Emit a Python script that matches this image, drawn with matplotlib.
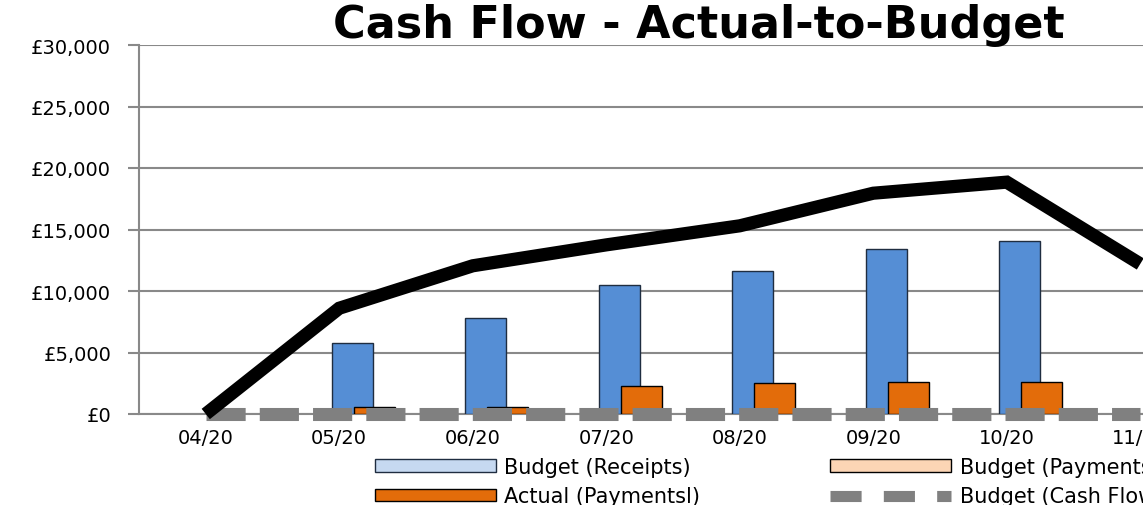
import matplotlib
matplotlib.use("Agg")
import matplotlib.pyplot as plt
from matplotlib.patches import Patch
from matplotlib.lines import Line2D
from matplotlib.ticker import FuncFormatter, MultipleLocator

# ---- data ----
months = ["04/20", "05/20", "06/20", "07/20", "08/20", "09/20", "10/20", "11/20"]
budget_receipts = [0, 0, 0, 0, 0, 0, 0, 0]
budget_payments = [0, 0, 0, 0, 0, 0, 0, 0]
actual_receipts = [0, 5780, 7800, 10450, 11650, 13400, 14040, 0]
actual_payments = [0, 600, 600, 2280, 2530, 2630, 2630, 0]
budget_cash = [0, 0, 0, 0, 0, 0, 0, 0]
actual_cash = [0, 8600, 12050, 13750, 15300, 17950, 18850, 12200]

W, H = 1143, 506
fig = plt.figure(figsize=(W / 100, H / 100), dpi=100)
plt.rcParams["font.family"] = ["DejaVu Sans"]

# plot area runs past the right edge of the picture, like the clipped original
cat_px = 133.5
left_px, top_px, bottom_px = 139, 46, 415
ax = fig.add_axes([left_px / W, (H - bottom_px) / H,
                   len(months) * cat_px / W, (bottom_px - top_px) / H])

x = list(range(len(months)))
bar_w = 41 / cat_px
step = 22 / cat_px
series = [
    (budget_receipts, "#C6D9F1", "#1F2D40"),
    (budget_payments, "#FCD5B5", "#000000"),
    (actual_receipts, "#558ED5", "#1F2D40"),
    (actual_payments, "#E36C0A", "#000000"),
]
for i, (vals, col, edge) in enumerate(series):
    pos = [xi + (i - 1.5) * step + 0.015 for xi in x]
    # zero bars draw nothing, as in the original
    lws = [1 if v else 0 for v in vals]
    ax.bar(pos, vals, width=bar_w, color=col, edgecolor=edge,
           linewidth=lws, zorder=3)

ax.plot(x, budget_cash, color="#808080", linewidth=9.4,
        dashes=(3.0, 1.08), dash_capstyle="butt", zorder=4, clip_on=False)
ax.plot(x, actual_cash, color="black", linewidth=9.5,
        solid_capstyle="butt", solid_joinstyle="miter", zorder=5,
        clip_on=False)

ax.set_xlim(-0.5, len(months) - 0.5)
ax.set_ylim(0, 30000)
ax.yaxis.set_major_locator(MultipleLocator(5000))
ax.yaxis.set_major_formatter(FuncFormatter(lambda v, p: "£{:,.0f}".format(v)))
ax.set_xticks(x)
ax.set_xticklabels(months)

grey = "#898989"
ax.grid(axis="y", color=grey, linewidth=1.5, zorder=0)
ax.set_axisbelow(True)
for s in ["top", "right"]:
    ax.spines[s].set_visible(False)
ax.spines["left"].set_color(grey)
ax.spines["left"].set_linewidth(1.5)
ax.spines["bottom"].set_color(grey)
ax.spines["bottom"].set_linewidth(1.5)
ax.tick_params(axis="y", length=8, width=1.5, color=grey, pad=12,
               labelsize=14)
ax.tick_params(axis="x", length=0, pad=10, labelsize=14)

fig.text(333 / W, (H - 38) / H, "Cash Flow - Actual-to-Budget",
         fontsize=32, fontweight="bold", ha="left", va="baseline")

h_br = Patch(facecolor="#C6D9F1", edgecolor="#1F2D40", linewidth=1)
h_bp = Patch(facecolor="#FCD5B5", edgecolor="#000000", linewidth=1)
h_ar = Patch(facecolor="#558ED5", edgecolor="#1F2D40", linewidth=1)
h_ap = Patch(facecolor="#E36C0A", edgecolor="#000000", linewidth=1)
h_bc = Line2D([], [], color="#808080", linewidth=8, dashes=(2.8, 2.0),
              dash_capstyle="butt")
h_ac = Line2D([], [], color="black", linewidth=8)
# legend fills column by column, so order entries to read row-wise
handles = [h_br, h_ap, h_bp, h_bc, h_ar, h_ac]
labels = ["Budget (Receipts)", "Actual (Paymentsl)", "Budget (Payments)",
          "Budget (Cash Flow)", "Actual (Receipts)", "Actual (Cash Flow)"]
fig.legend(handles, labels, ncol=3, loc="upper left",
           bbox_to_anchor=(375 / W, (H - 458) / H),
           bbox_transform=fig.transFigure, frameon=False,
           fontsize=15, handlelength=5.8, handleheight=0.55,
           handletextpad=0.4, columnspacing=6.25, labelspacing=0.45,
           borderpad=0, borderaxespad=0)

fig.savefig("out.png", dpi=100)
